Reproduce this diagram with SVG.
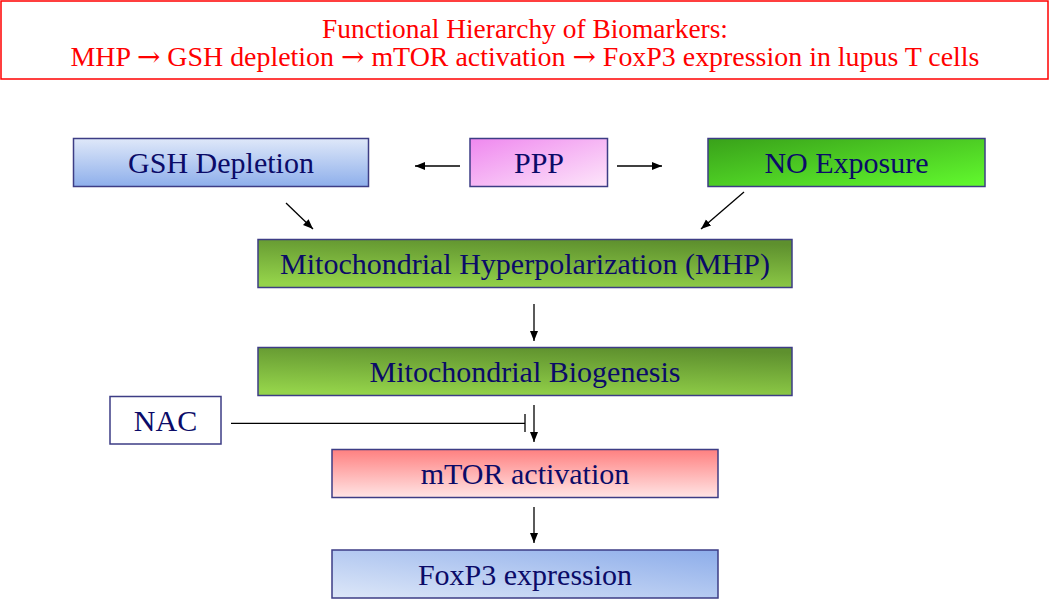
<svg xmlns="http://www.w3.org/2000/svg" width="1050" height="599" viewBox="0 0 1050 599">
<style>
.box{stroke:#3d3d85;stroke-width:1.5}
.lbl{font-family:"Liberation Serif","Times New Roman",serif;font-size:30px;fill:#0b0b68;text-anchor:middle}
.ttl{font-family:"Liberation Serif","Times New Roman",serif;font-size:27px;fill:#ff0000;text-anchor:middle}
.arr{font-family:"DejaVu Serif","DejaVu Sans",serif}
.conn line{stroke:#000;stroke-width:1.3;fill:none}
</style>
<defs>
<marker id="ah" markerUnits="userSpaceOnUse" markerWidth="11" markerHeight="9" refX="10" refY="4" orient="auto">
<path d="M0,0 L10,4 L0,8 z" fill="#000"/>
</marker>
<linearGradient id="gBlueV" x1="0" y1="0" x2="0" y2="1"><stop offset="0" stop-color="#dfe8f9"/><stop offset="1" stop-color="#8eafeb"/></linearGradient>
<linearGradient id="gBlueD" x1="0" y1="1" x2="1" y2="0"><stop offset="0" stop-color="#dde7f8"/><stop offset="1" stop-color="#8dadea"/></linearGradient>
<linearGradient id="gPink" x1="0" y1="0" x2="1" y2="1"><stop offset="0" stop-color="#ef88ef"/><stop offset="1" stop-color="#fde6fa"/></linearGradient>
<linearGradient id="gNO" x1="0" y1="0" x2="1" y2="1"><stop offset="0" stop-color="#39a11a"/><stop offset="1" stop-color="#62fa2e"/></linearGradient>
<linearGradient id="gOlive" x1="0.35" y1="1" x2="0.65" y2="0"><stop offset="0" stop-color="#94d34a"/><stop offset="1" stop-color="#5e902e"/></linearGradient>
<linearGradient id="gRed" x1="0" y1="0" x2="0" y2="1"><stop offset="0" stop-color="#ff8080"/><stop offset="1" stop-color="#ffe5e5"/></linearGradient>
</defs>
<g id="title">
<rect x="1" y="1" width="1047" height="78" fill="#fff" stroke="#ff0000" stroke-width="1.5"/>
<text class="ttl" x="525" y="38" textLength="406" lengthAdjust="spacingAndGlyphs">Functional Hierarchy of Biomarkers:</text>
<text class="ttl" x="525" y="66" textLength="909" lengthAdjust="spacingAndGlyphs">MHP <tspan class="arr">→</tspan> GSH depletion <tspan class="arr">→</tspan> mTOR activation <tspan class="arr">→</tspan> FoxP3 expression in lupus T cells</text>
</g>
<g id="gsh">
<rect class="box" x="73.5" y="138.5" width="295" height="48" fill="url(#gBlueV)"/>
<text class="lbl" x="221" y="173">GSH Depletion</text>
</g>
<g id="ppp">
<rect class="box" x="470" y="138.5" width="137.5" height="48" fill="url(#gPink)"/>
<text class="lbl" x="539" y="173">PPP</text>
</g>
<g id="no">
<rect class="box" x="708" y="138.5" width="277" height="48" fill="url(#gNO)"/>
<text class="lbl" x="846.5" y="173">NO Exposure</text>
</g>
<g id="mhp">
<rect class="box" x="258" y="239.5" width="534" height="48" fill="url(#gOlive)"/>
<text class="lbl" x="525" y="274">Mitochondrial Hyperpolarization (MHP)</text>
</g>
<g id="biogenesis">
<rect class="box" x="258" y="347.5" width="534" height="48" fill="url(#gOlive)"/>
<text class="lbl" x="525" y="382">Mitochondrial Biogenesis</text>
</g>
<g id="nac">
<rect class="box" x="110" y="396.5" width="111" height="47.5" fill="#fff"/>
<text class="lbl" x="165.5" y="431">NAC</text>
</g>
<g id="mtor">
<rect class="box" x="332" y="449.5" width="386" height="48" fill="url(#gRed)"/>
<text class="lbl" x="525" y="484">mTOR activation</text>
</g>
<g id="foxp3">
<rect class="box" x="332" y="550" width="386" height="48" fill="url(#gBlueD)"/>
<text class="lbl" x="525" y="585">FoxP3 expression</text>
</g>
<g id="connectors" class="conn">
<line x1="460" y1="166" x2="415" y2="166" marker-end="url(#ah)"/>
<line x1="617" y1="166" x2="662" y2="166" marker-end="url(#ah)"/>
<line x1="286" y1="203" x2="313" y2="229" marker-end="url(#ah)"/>
<line x1="744" y1="192" x2="701" y2="229" marker-end="url(#ah)"/>
<line x1="534" y1="304" x2="534" y2="341" marker-end="url(#ah)"/>
<line x1="534" y1="405" x2="534" y2="442" marker-end="url(#ah)"/>
<line x1="231" y1="423.3" x2="525" y2="423.3"/>
<line x1="525" y1="414" x2="525" y2="432"/>
<line x1="534" y1="507" x2="534" y2="543" marker-end="url(#ah)"/>
</g>
</svg>
